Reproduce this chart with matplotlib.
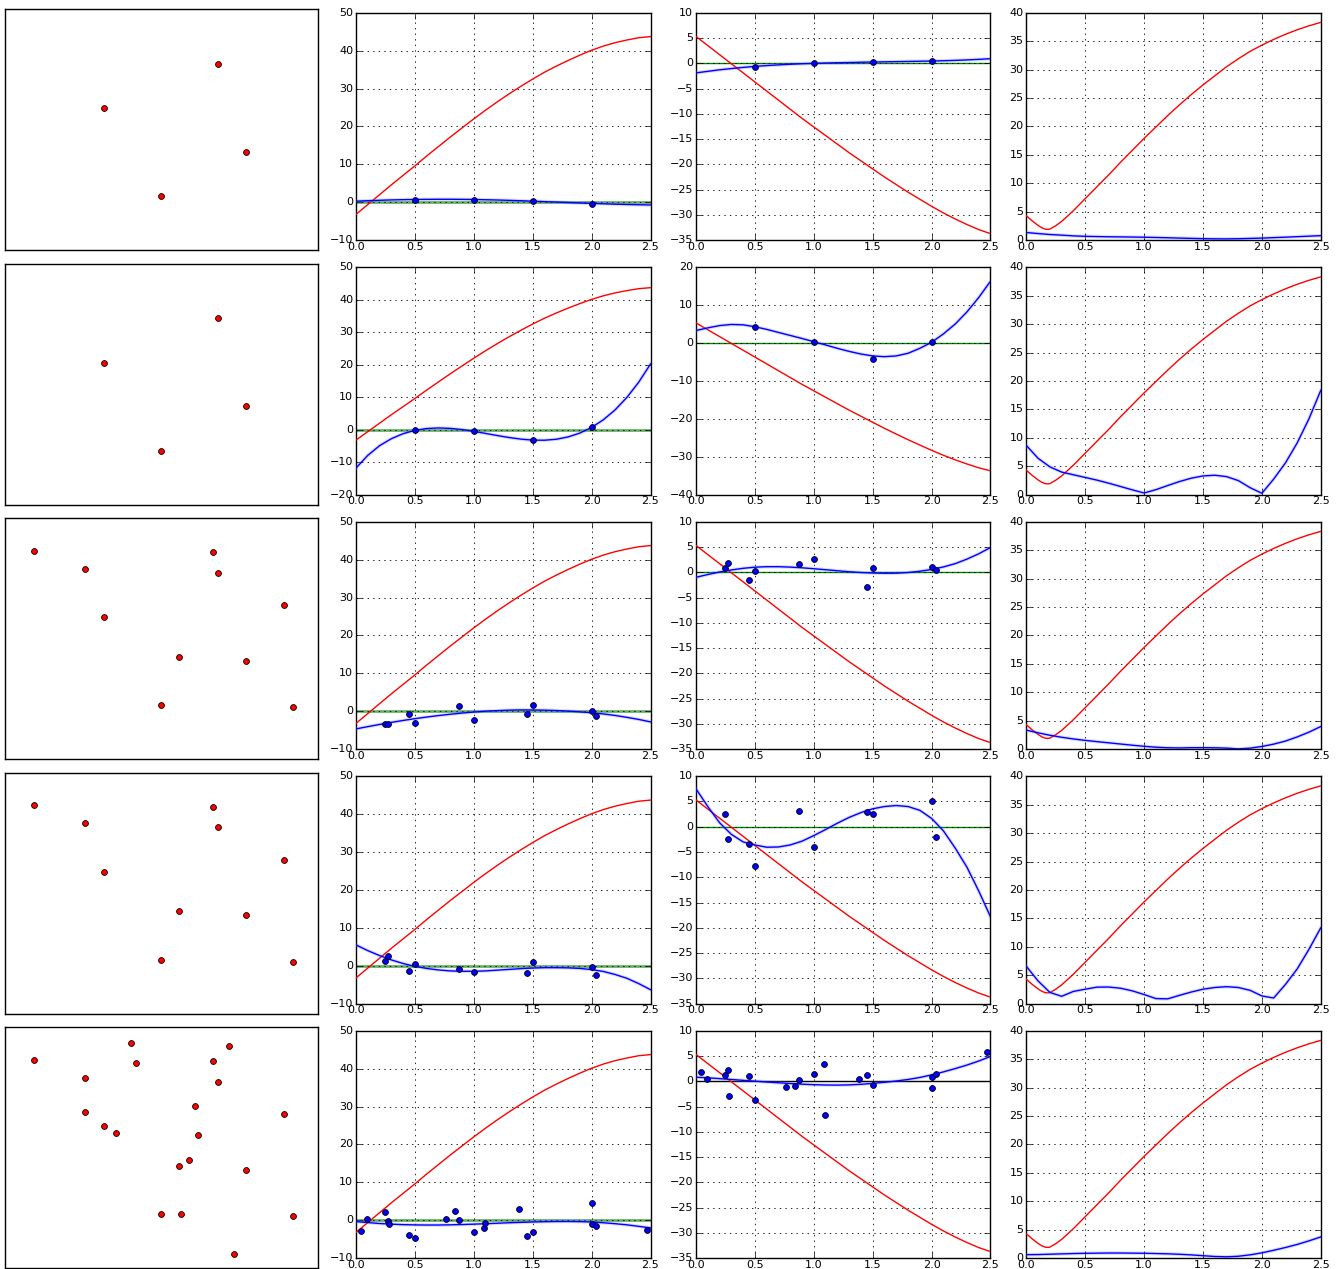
import numpy as np
import matplotlib
matplotlib.use('Agg')
import matplotlib.pyplot as plt

plt.style.use('classic')
plt.rcParams.update({'figure.facecolor': 'white', 'savefig.facecolor': 'white',
                     'font.size': 8, 'xtick.labelsize': 8, 'ytick.labelsize': 8,
                     'font.family': ['DejaVu Sans']})

# ---------------- data ----------------
xs = [0.0, 0.1, 0.2, 0.3, 0.4, 0.5, 0.6, 0.7, 0.8, 0.9, 1.0, 1.1, 1.2,
      1.3, 1.4, 1.5, 1.6, 1.7, 1.8, 1.9, 2.0, 2.1, 2.2, 2.3, 2.4, 2.5]

# reference (red) curves, same in every row
red_u = [-3.2, -0.6, 2.0, 4.6, 7.1, 9.6, 12.2, 14.7, 17.2, 19.6, 22.0, 24.3, 26.5,
         28.6, 30.6, 32.5, 34.3, 35.9, 37.4, 38.8, 40.1, 41.2, 42.1, 42.8, 43.4, 43.7]
red_v = [5.3, 3.5, 1.7, -0.1, -1.9, -3.7, -5.5, -7.3, -9.1, -10.9, -12.6, -14.3, -16.0,
         -17.7, -19.3, -20.9, -22.5, -24.0, -25.5, -26.9, -28.3, -29.6, -30.8, -31.9, -32.9, -33.7]
red_m_x = [0.0, 0.05, 0.1, 0.13, 0.16, 0.18, 0.2, 0.25, 0.3, 0.4, 0.5, 0.6, 0.7, 0.8, 0.9, 1.0,
           1.1, 1.2, 1.3, 1.4, 1.5, 1.6, 1.7, 1.8, 1.9, 2.0, 2.1, 2.2, 2.3, 2.4, 2.5]
red_m = [4.3, 3.4, 2.6, 2.2, 1.95, 1.9, 1.95, 2.55, 3.3, 5.2, 7.3, 9.4, 11.5, 13.7, 15.8, 17.9,
         19.9, 21.9, 23.8, 25.6, 27.3, 28.9, 30.5, 31.9, 33.2, 34.3, 35.3, 36.2, 37.0, 37.7, 38.3]

# station layouts (fractions of the map panel)
map_a_x = [0.681, 0.316, 0.771, 0.498]
map_a_y = [0.772, 0.589, 0.407, 0.224]
map_b_x = [0.681, 0.316, 0.771, 0.498, 0.092, 0.255, 0.665, 0.892, 0.556, 0.921]
map_b_y = [0.772, 0.589, 0.407, 0.224, 0.865, 0.790, 0.857, 0.637, 0.425, 0.214]
map_c_x = [0.681, 0.316, 0.771, 0.498, 0.092, 0.255, 0.665, 0.892, 0.556, 0.921,
           0.402, 0.716, 0.418, 0.607, 0.255, 0.355, 0.617, 0.588, 0.563, 0.732]
map_c_y = [0.772, 0.589, 0.407, 0.224, 0.865, 0.790, 0.857, 0.637, 0.425, 0.214,
           0.934, 0.921, 0.851, 0.672, 0.647, 0.560, 0.552, 0.448, 0.224, 0.058]

# row 1
r1_px = [0.5, 1.0, 1.5, 2.0]
r1_pu = [0.7, 0.6, 0.3, -0.35]
r1_pv = [-0.66, 0.0, 0.2, 0.4]
r1_fu = [0.3, 0.42, 0.53, 0.62, 0.69, 0.74, 0.77, 0.79, 0.79, 0.77, 0.73, 0.67, 0.6,
         0.51, 0.41, 0.3, 0.18, 0.06, -0.06, -0.18, -0.3, -0.4, -0.5, -0.58, -0.65, -0.7]
r1_fv = [-1.9, -1.6, -1.3, -1.05, -0.82, -0.62, -0.46, -0.32, -0.2, -0.1, -0.02, 0.05, 0.1,
         0.15, 0.2, 0.24, 0.28, 0.32, 0.36, 0.4, 0.44, 0.5, 0.57, 0.66, 0.77, 0.9]
r1_fm = [1.35, 1.17, 1.0, 0.89, 0.76, 0.68, 0.64, 0.6, 0.58, 0.55, 0.52, 0.48, 0.43,
         0.37, 0.32, 0.27, 0.24, 0.23, 0.26, 0.31, 0.37, 0.45, 0.53, 0.62, 0.71, 0.8]

# row 2
r2_px = [0.5, 1.0, 1.5, 2.0]
r2_pu = [-0.2, -0.5, -3.2, 0.7]
r2_pv = [4.3, 0.35, -4.1, 0.26]
r2_fu = [-11.8, -7.9, -4.92, -2.77, -1.22, -0.2, 0.36, 0.54, 0.41, 0.04, -0.5, -1.14, -1.8,
         -2.41, -2.9, -3.2, -3.24, -2.94, -2.23, -1.04, 0.7, 3.06, 6.12, 9.95, 14.62, 20.2]
r2_fv = [3.3, 4.0, 4.6, 4.9, 4.8, 4.3, 3.6, 2.8, 2.0, 1.2, 0.35, -0.5, -1.4,
         -2.2, -2.9, -3.4, -3.6, -3.4, -2.7, -1.4, 0.2, 2.4, 5.0, 8.2, 12.0, 16.3]
r2_fm = [8.66, 6.4, 4.9, 3.98, 3.5, 3.04, 2.56, 2.02, 1.44, 0.85, 0.3, 0.88, 1.61,
         2.31, 2.9, 3.3, 3.42, 3.18, 2.48, 1.23, 0.25, 2.75, 5.59, 9.12, 13.37, 18.35]

# rows 3 and 4 share sampling positions
r34_px = [0.245, 0.275, 0.45, 0.5, 0.875, 1.0, 1.455, 1.5, 2.0, 2.04]

r3_pu = [-3.25, -3.25, -0.8, -3.2, 1.3, -2.2, -0.7, 1.67, 0.0, -1.14]
r3_pv = [0.92, 1.78, -1.45, 0.33, 1.7, 2.7, -3.0, 0.92, 1.05, 0.4]
r3_fu = [-4.65, -4.05, -3.47, -2.93, -2.42, -1.95, -1.52, -1.13, -0.78, -0.47, -0.2, 0.02, 0.18,
         0.3, 0.36, 0.35, 0.3, 0.2, 0.05, -0.15, -0.4, -0.7, -1.1, -1.6, -2.15, -2.8]
r3_fv = [-1.0, -0.45, 0.05, 0.45, 0.78, 1.0, 1.1, 1.1, 1.02, 0.88, 0.7, 0.5, 0.3,
         0.1, -0.05, -0.15, -0.2, -0.18, -0.05, 0.2, 0.55, 1.05, 1.7, 2.6, 3.65, 4.9]
r3_fm = [3.36, 2.88, 2.45, 2.1, 1.8, 1.55, 1.33, 1.12, 0.91, 0.7, 0.51, 0.35, 0.25,
         0.22, 0.26, 0.27, 0.25, 0.19, 0.05, 0.18, 0.48, 0.89, 1.43, 2.16, 3.0, 3.99]

r4_pu = [1.24, 2.57, -1.4, 0.44, -0.97, -1.68, -1.86, 1.06, -0.35, -2.3]
r4_pv = [2.43, -2.5, -3.4, -7.76, 3.1, -4.0, 2.9, 2.43, 5.07, -2.0]
r4_fu = [5.5, 4.0, 2.7, 1.55, 0.6, -0.15, -0.7, -1.1, -1.35, -1.45, -1.45, -1.35, -1.15,
         -0.95, -0.75, -0.6, -0.5, -0.5, -0.55, -0.7, -1.0, -1.5, -2.3, -3.3, -4.7, -6.3]
r4_fv = [7.5, 4.0, 0.8, -1.5, -3.0, -3.6, -4.05, -4.0, -3.6, -2.85, -1.75, -0.55, 0.7,
         1.85, 2.8, 3.55, 4.0, 4.2, 4.0, 3.25, 1.65, -0.8, -4.2, -8.0, -12.7, -17.8]
r4_fm = [6.58, 4.0, 1.99, 1.3, 2.16, 2.55, 2.91, 2.93, 2.72, 2.26, 1.61, 0.9, 0.85,
         1.47, 2.05, 2.55, 2.85, 2.99, 2.85, 2.35, 1.36, 1.0, 3.39, 6.12, 9.58, 13.35]

# row 5
r5_px = [0.043, 0.09, 0.245, 0.275, 0.277, 0.45, 0.5, 0.766, 0.84, 0.875,
         1.0, 1.087, 1.098, 1.38, 1.455, 1.5, 2.0, 2.0, 2.04, 2.47]
r5_pu = [-2.8, 0.44, 2.2, -0.18, -0.96, -3.86, -4.65, 0.44, 2.46, 0.0,
         -3.07, -2.0, -0.7, 2.9, -4.2, -3.07, 4.56, -1.05, -1.58, -2.63]
r5_pv = [1.84, 0.46, 1.18, 2.24, -2.96, 1.12, -3.68, -1.05, -0.99, 0.26,
         1.45, 3.42, -6.58, 0.39, 1.18, -0.66, -1.38, 0.92, 1.51, 5.72]
r5_fu = [-0.35, -0.6, -0.85, -1.02, -1.15, -1.22, -1.25, -1.25, -1.2, -1.12, -1.02, -0.9, -0.78,
         -0.65, -0.55, -0.45, -0.38, -0.33, -0.32, -0.36, -0.45, -0.65, -0.9, -1.2, -1.6, -2.0]
r5_fv = [0.8, 0.68, 0.52, 0.35, 0.18, 0.02, -0.15, -0.3, -0.45, -0.58, -0.68, -0.74, -0.76,
         -0.72, -0.6, -0.42, -0.2, 0.05, 0.35, 0.75, 1.25, 1.85, 2.5, 3.2, 4.0, 4.9]
r5_fm = [0.62, 0.64, 0.7, 0.76, 0.82, 0.86, 0.89, 0.91, 0.91, 0.89, 0.87, 0.82, 0.77,
         0.69, 0.58, 0.44, 0.3, 0.24, 0.34, 0.59, 0.94, 1.39, 1.88, 2.42, 3.05, 3.74]

rows = [
    dict(mx=map_a_x, my=map_a_y, px=r1_px, pu=r1_pu, pv=r1_pv, fu=r1_fu, fv=r1_fv, fm=r1_fm,
         ylu=(-10, 50), ylv=(-35, 10), stu=10, stv=5, zc='g'),
    dict(mx=map_a_x, my=map_a_y, px=r2_px, pu=r2_pu, pv=r2_pv, fu=r2_fu, fv=r2_fv, fm=r2_fm,
         ylu=(-20, 50), ylv=(-40, 20), stu=10, stv=10, zc='g'),
    dict(mx=map_b_x, my=map_b_y, px=r34_px, pu=r3_pu, pv=r3_pv, fu=r3_fu, fv=r3_fv, fm=r3_fm,
         ylu=(-10, 50), ylv=(-35, 10), stu=10, stv=5, zc='g'),
    dict(mx=map_b_x, my=map_b_y, px=r34_px, pu=r4_pu, pv=r4_pv, fu=r4_fu, fv=r4_fv, fm=r4_fm,
         ylu=(-10, 50), ylv=(-35, 10), stu=10, stv=5, zc='g'),
    dict(mx=map_c_x, my=map_c_y, px=r5_px, pu=r5_pu, pv=r5_pv, fu=r5_fu, fv=r5_fv, fm=r5_fm,
         ylu=(-10, 50), ylv=(-35, 10), stu=10, stv=5, zc='k'),
]

# ---------------- layout (pixels) ----------------
W, H = 1338, 1269
fig = plt.figure(figsize=(W / 100, H / 100), dpi=100)

def add_ax(left, top, w, h):
    return fig.add_axes([left / W, 1 - (top + h) / H, w / W, h / H])

pitch = 254.5
map_left, map_top, map_w, map_h = 5.3, 9.0, 312.4, 241.0
col_lefts = [356.0, 696.0, 1026.3]
col_w, col_h, col_top = 294.5, 227.5, 12.7


def style_curve_ax(ax, ylim, step):
    ax.set_xlim(0, 2.5)
    ax.set_ylim(*ylim)
    ax.set_xticks(np.arange(0, 2.51, 0.5))
    ax.set_yticks(np.arange(ylim[0], ylim[1] + 0.1, step))
    ax.grid(True, linestyle=':', color='k', linewidth=0.6)
    ax.tick_params(direction='in', length=4, top=True, right=True)
    ax.tick_params(axis='x', pad=1)
    ax.tick_params(axis='y', pad=2)


def blue_curve(ax, x, y):
    ax.plot(x, y, color=(0.45, 0.45, 1.0), lw=2.6, alpha=0.25, zorder=3)
    ax.plot(x, y, color='b', lw=1.0, zorder=4)


for i, r in enumerate(rows):
    off = i * pitch
    # map panel
    ax0 = add_ax(map_left, map_top + off, map_w, map_h)
    ax0.plot(r['mx'], r['my'], 'o', color='r', mec='k', mew=0.6, ms=4.2)
    ax0.set_xlim(0, 1)
    ax0.set_ylim(0, 1)
    ax0.set_xticks([])
    ax0.set_yticks([])

    # u component
    ax1 = add_ax(col_lefts[0], col_top + off, col_w, col_h)
    style_curve_ax(ax1, r['ylu'], r['stu'])
    ax1.axhline(0, color='g', lw=2.0, alpha=0.6, zorder=2)
    ax1.plot(xs, red_u, color='r', lw=1.0, zorder=3)
    blue_curve(ax1, xs, r['fu'])
    ax1.plot(r['px'], r['pu'], 'o', color='b', mec='k', mew=0.6, ms=4.2, zorder=5)

    # v component
    ax2 = add_ax(col_lefts[1], col_top + off, col_w, col_h)
    style_curve_ax(ax2, r['ylv'], r['stv'])
    ax2.axhline(0, color=r['zc'], lw=1.0, zorder=2)
    ax2.plot(xs, red_v, color='r', lw=1.0, zorder=3)
    blue_curve(ax2, xs, r['fv'])
    ax2.plot(r['px'], r['pv'], 'o', color='b', mec='k', mew=0.6, ms=4.2, zorder=5)

    # magnitude
    ax3 = add_ax(col_lefts[2], col_top + off, col_w, col_h)
    style_curve_ax(ax3, (0, 40), 5)
    ax3.plot(red_m_x, red_m, color='r', lw=1.0, zorder=3)
    blue_curve(ax3, xs, r['fm'])

fig.savefig('out.png', dpi=100)
